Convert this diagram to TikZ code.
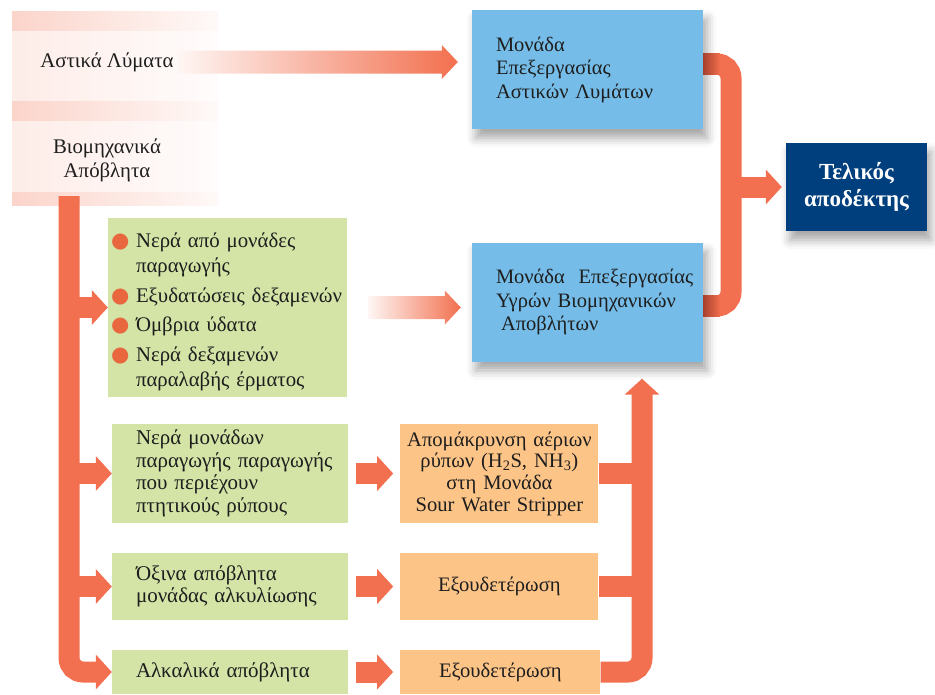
\documentclass[tikz,border=0pt]{standalone}
\usepackage{fontspec}
\setmainfont{Liberation Serif}
\newfontfamily\dotfont{DejaVu Sans}
\usepackage{tikz}
\usetikzlibrary{arrows.meta,positioning,calc,shadows.blur}
\definecolor{ink}{HTML}{1E1E1E}
\definecolor{flow}{HTML}{F2704F}
\definecolor{flowdark}{HTML}{A8402C}
\definecolor{unitblue}{HTML}{75BDE8}
\definecolor{navy}{HTML}{003F7E}
\definecolor{leafgreen}{HTML}{D3E4A6}
\definecolor{peach}{HTML}{FDC487}
\definecolor{dotred}{HTML}{E8673E}

\newcommand{\itemdot}{\makebox[25pt][l]{\dotfont\fontsize{21}{21}\selectfont\textcolor{dotred}{●}}}
\newcommand{\itemcont}{\hspace*{25pt}}
% white-to-orange arrow between two points at the same height
\newcommand{\fadearrow}[2]{%
  \shade[left color=flow!6, right color=flow]
    ($(#1)+(0,-11.5)$) -- ($(#2)+(-16,-11.5)$) -- ($(#2)+(-16,-17)$) -- (#2)
    -- ($(#2)+(-16,17)$) -- ($(#2)+(-16,11.5)$) -- ($(#1)+(0,11.5)$) -- cycle;}

\begin{document}
\begin{tikzpicture}[
    x=1pt, y=-1pt,
    flowline/.style={draw=flow, line width=21pt},
    flowtip/.style={-{Triangle[length=16pt,width=34pt]}},
    sourcetext/.style={
      text=ink,
      align=center,
      font=\fontsize{20.8}{24}\selectfont
    },
    unitbox/.style={
      fill=unitblue,
      text=ink,
      text width=231pt,
      inner xsep=0pt,
      inner ysep=0pt,
      minimum height=119pt,
      align=left,
      font=\fontsize{20.5}{23.5}\selectfont,
      execute at begin node={\leftskip=24pt\relax},
      blur shadow={shadow xshift=4pt, shadow yshift=-9pt, shadow blur radius=9pt, shadow opacity=35}
    },
    greenbox/.style={
      fill=leafgreen,
      text=ink,
      text width=236pt,
      inner xsep=0pt,
      inner ysep=0pt,
      minimum height=#1,
      align=left,
      font=\fontsize{21}{22.5}\selectfont,
      execute at begin node={\leftskip=24pt\relax}
    },
    stepbox/.style={
      fill=peach,
      text=ink,
      text width=198pt,
      inner xsep=0pt,
      inner ysep=0pt,
      minimum height=#1,
      align=center,
      font=\fontsize{20.6}{21.7}\selectfont
    }
  ]
  \useasboundingbox (0,0) rectangle (935,694);

  % sources band
  \shade[left color=flow!13, right color=flow!2] (12,30) rectangle (218,192);
  \foreach \ya/\yb in {11/30, 101/120, 192/205}
    \shade[left color=flow!30, middle color=flow, right color=flow!4] (12,\ya) rectangle (218,\yb);
  \node[sourcetext] (urban) at (107,62) {Αστικά Λύματα};
  \node[sourcetext] (industrial) at (107,160) {Βιομηχανικά\\Απόβλητα};

  % treatment units and receiver
  \node[unitbox] (urbanunit) at (587.5,69.5) {Μονάδα\\Επεξεργασίας\\Αστικών Λυμάτων};
  \node[unitbox] (industrialunit) at (587.5,302) {Μονάδα\ \ Επεξεργασίας\\Υγρών Βιομηχανικών\\\hspace*{5pt}Αποβλήτων};
  \node[
    fill=navy,
    text=white,
    minimum width=141pt,
    minimum height=88pt,
    align=center,
    font=\bfseries\fontsize{23}{27}\selectfont,
    blur shadow={shadow xshift=4pt, shadow yshift=-9pt, shadow blur radius=9pt, shadow opacity=35}
  ] (receiver) at (856.5,187) {Τελικός\\αποδέκτης};

  % industrial streams
  \node[
    greenbox=179pt,
    text width=239pt,
    text height=23pt,
    font=\fontsize{20.8}{25.5}\selectfont,
    execute at begin node={\leftskip=3pt\relax}
  ] (listbox) at (227.5,307.5) {%
    \itemdot Νερά από μονάδες\\
    \itemcont παραγωγής\\[4pt]
    \itemdot Εξυδατώσεις δεξαμενών\\[4pt]
    \itemdot Όμβρια ύδατα\\[4pt]
    \itemdot Νερά δεξαμενών\\
    \itemcont παραλαβής έρματος};
  \node[greenbox=99pt] (volatilebox) at (230,473.5) {Νερά μονάδων\\παραγωγής παραγωγής\\που περιέχουν\\πτητικούς ρύπους};
  \node[greenbox=67pt] (acidbox) at (230,586.5) {Όξινα απόβλητα\\μονάδας αλκυλίωσης};
  \node[greenbox=44pt] (alkalibox) at (230,672) {Αλκαλικά απόβλητα};

  % pretreatment steps
  \node[stepbox=99pt, right=52pt of volatilebox] (stripperbox) {Απομάκρυνση αέριων\\ρύπων (H\textsubscript{2}S, NH\textsubscript{3})\\στη Μονάδα\\Sour Water Stripper};
  \node[stepbox=67pt, right=52pt of acidbox] (acidstep) {Εξουδετέρωση};
  \node[stepbox=44pt, text width=200pt, right=52pt of alkalibox] (alkalistep) {Εξουδετέρωση};

  % fading arrows into the units
  \fadearrow{urban.east}{$(urbanunit.west |- urban.east)+(-14,0)$}
  \coordinate (listTail) at ($(listbox.east)+(21,0)$);
  \coordinate (listTip) at ($(industrialunit.west |- listbox.east)+(-11,0)$);
  \fadearrow{listTail}{listTip}

  % units to receiver
  \coordinate (merge) at (731,187);
  \draw[flowline, rounded corners=14pt] ([yshift=5.5pt]urbanunit.east) -| (merge) |- ([yshift=-4pt]industrialunit.east);
  \shade[left color=flowdark, right color=flow] ($(urbanunit.east)+(0,-16)$) rectangle ($(urbanunit.east)+(17,5)$);
  \shade[left color=flowdark, right color=flow] ($(industrialunit.east)+(0,-6.5)$) rectangle ($(industrialunit.east)+(17,14.5)$);
  \draw[flowline, flowtip, shorten >=4pt] (merge) -- (receiver.west);

  % trunk of the industrial streams
  \coordinate (trunk) at (69,196);
  \draw[flowline, rounded corners=14pt, flowtip] (trunk) |- (alkalibox.west);
  \foreach \src in {listbox, volatilebox, acidbox}
    \draw[flowline, flowtip] (trunk |- \src.west) -- (\src.west);
  \foreach \src/\dst in {volatilebox/stripperbox, acidbox/acidstep, alkalibox/alkalistep}
    \draw[flowline, flowtip, shorten <=8pt, shorten >=7pt] (\src) -- (\dst);

  % pretreated streams up to the industrial unit
  \coordinate (riser) at (642,0);
  \draw[flowline, rounded corners=14pt, flowtip, shorten >=17pt] (alkalistep.east) -| (riser |- industrialunit.south);
  \foreach \src in {stripperbox, acidstep}
    \draw[flowline] (\src.east) -- (\src.east -| riser);
\end{tikzpicture}
\end{document}
